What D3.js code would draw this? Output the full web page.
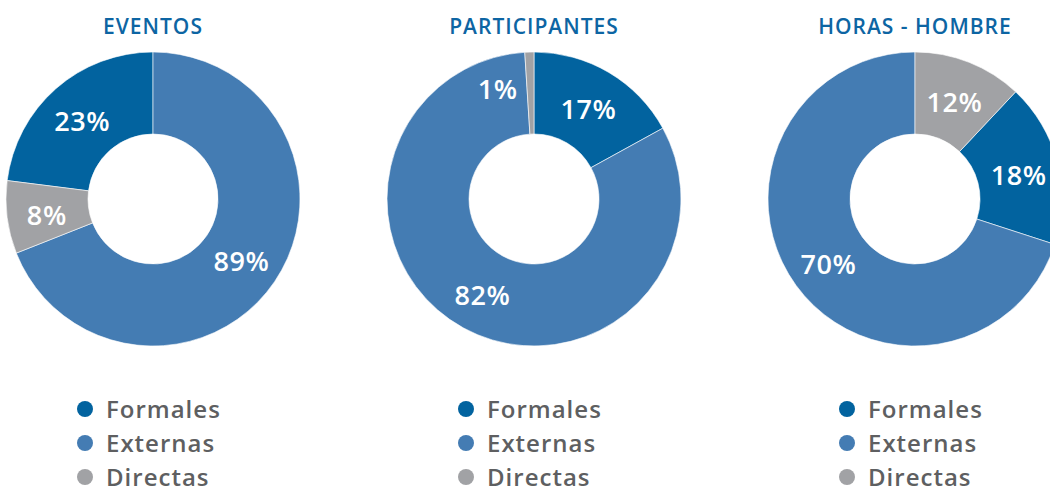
<!DOCTYPE html>
<html>
<head>
<meta charset="utf-8">
<script src="https://cdn.jsdelivr.net/npm/d3@7"></script>
<style>
  body { margin: 0; background: #fff; }
  svg { display: block; font-family: "Open Sans", "Lato", sans-serif; }
</style>
</head>
<body>
<div id="chart"></div>
<script>
// data
var titles = ["EVENTOS", "PARTICIPANTES", "HORAS - HOMBRE"];
var categories = ["Formales", "Externas", "Directas"];
// slice sizes as drawn (legend order)
var eventosValues = [23, 69, 8];
var participantesValues = [17, 82, 1];
var horasValues = [18, 70, 12];
// printed labels (legend order)
var eventosLabels = ["23%", "89%", "8%"];
var participantesLabels = ["17%", "82%", "1%"];
var horasLabels = ["18%", "70%", "12%"];
// where the first slice (Formales) begins, as share of the circle
var startShares = [-0.23, 0, 0.12];

var colors = ["#02639f", "#447cb3", "#a1a2a5"];

var width = 1050, height = 487;
var outerR = 147, innerR = 65;

var svg = d3.select("#chart")
  .append("svg")
    .attr("width", width)
    .attr("height", height);

var charts = [
  {title: titles[0], values: eventosValues, labels: eventosLabels, start: startShares[0]},
  {title: titles[1], values: participantesValues, labels: participantesLabels, start: startShares[1]},
  {title: titles[2], values: horasValues, labels: horasLabels, start: startShares[2]}
];

var x = d3.scalePoint()
  .domain(titles)
  .range([153, 915]);

var arc = d3.arc().innerRadius(innerR).outerRadius(outerR);
var labelArc = d3.arc().innerRadius(107).outerRadius(107);

charts.forEach(function(c) {
  var g = svg.append("g")
    .attr("transform", "translate(" + x(c.title) + ",199)");

  var a0 = c.start * 2 * Math.PI;
  var pie = d3.pie().sort(null)
    .startAngle(a0)
    .endAngle(a0 + 2 * Math.PI);
  var arcs = pie(c.values);

  g.selectAll("path")
    .data(arcs)
    .enter().append("path")
      .attr("d", arc)
      .attr("fill", function(d, i) { return colors[i]; })
      .attr("stroke", "#fff")
      .attr("stroke-width", 0.6);

  g.selectAll("text.pct")
    .data(arcs)
    .enter().append("text")
      .attr("class", "pct")
      .attr("transform", function(d) {
        var p;
        if (d.value < 3) {
          // tiny slice: put label just beside it
          var m = d.startAngle - 0.25;
          p = [Math.sin(m) * 118, -Math.cos(m) * 118];
        } else {
          p = labelArc.centroid(d);
        }
        return "translate(" + p[0] + "," + p[1] + ")";
      })
      .attr("text-anchor", "middle")
      .attr("dy", "0.45em")
      .attr("fill", "#fff")
      .attr("font-size", 27)
      .attr("font-weight", 600)
      .attr("letter-spacing", 0.6)
      .text(function(d, i) { return c.labels[i]; });

  // title
  svg.append("text")
    .attr("x", x(c.title))
    .attr("y", 34)
    .attr("text-anchor", "middle")
    .attr("fill", "#0d65a3")
    .attr("font-size", 21)
    .attr("font-weight", 600)
    .attr("letter-spacing", 1)
    .text(c.title);

  // legend
  var lg = svg.append("g")
    .attr("transform", "translate(" + (x(c.title) - 68) + ",409)");
  var rows = lg.selectAll("g")
    .data(categories)
    .enter().append("g")
      .attr("transform", function(d, i) { return "translate(0," + (i * 34) + ")"; });
  rows.append("circle")
    .attr("r", 8)
    .attr("fill", function(d, i) { return colors[i]; });
  rows.append("text")
    .attr("x", 21)
    .attr("dy", "0.36em")
    .attr("fill", "#5e5f61")
    .attr("font-size", 24)
    .attr("font-weight", 600)
    .attr("letter-spacing", 1)
    .text(function(d) { return d; });
});
</script>
</body>
</html>
